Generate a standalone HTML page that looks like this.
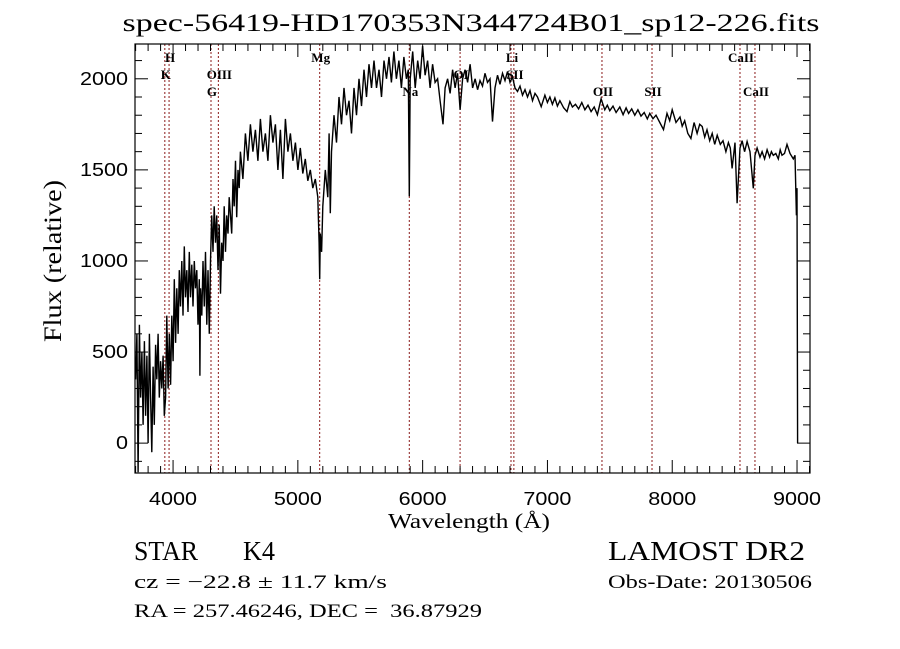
<!DOCTYPE html>
<html><head><meta charset="utf-8"><style>
html,body{margin:0;padding:0;background:#fff;}
svg{display:block;}
text{font-family:"Liberation Serif",serif;fill:#000;white-space:pre;}
.sans{font-family:"Liberation Sans",sans-serif;}
</style></head><body>
<svg id="chart" width="900" height="649" viewBox="0 0 900 649" xmlns="http://www.w3.org/2000/svg" xml:space="preserve">
<rect width="900" height="649" fill="#fff"/>
<text x="471" y="31" text-anchor="middle" font-size="25" textLength="697" lengthAdjust="spacingAndGlyphs">spec-56419-HD170353N344724B01_sp12-226.fits</text>
<g id="lines"></g>
<g id="series"></g>
<g id="axes"></g>
<text x="469" y="528" text-anchor="middle" font-size="21" textLength="162" lengthAdjust="spacingAndGlyphs">Wavelength (Å)</text>
<text transform="translate(61,261) rotate(-90)" text-anchor="middle" font-size="25" textLength="162" lengthAdjust="spacingAndGlyphs">Flux (relative)</text>
<text x="134" y="560" font-size="27" textLength="64" lengthAdjust="spacingAndGlyphs">STAR</text>
<text x="243" y="560" font-size="27" textLength="32" lengthAdjust="spacingAndGlyphs">K4</text>
<text x="608" y="560" font-size="27" textLength="197" lengthAdjust="spacingAndGlyphs">LAMOST DR2</text>
<text x="134" y="588" font-size="19" textLength="253" lengthAdjust="spacingAndGlyphs">cz = −22.8 ± 11.7 km/s</text>
<text x="608" y="588" font-size="19" textLength="204" lengthAdjust="spacingAndGlyphs">Obs-Date: 20130506</text>
<text x="134" y="617" font-size="19" textLength="348" lengthAdjust="spacingAndGlyphs">RA = 257.46246, DEC =  36.87929</text>
</svg>
<script>
const wave = [3700,3710,3720,3730,3740,3750,3760,3770,3780,3790,3800,3810,3820,3830,3840,3850,3860,3870,3880,3890,3900,3910,3920,3930,3940,3950,3960,3970,3980,3990,4000,4010,4020,4030,4040,4050,4060,4070,4080,4090,4100,4110,4120,4130,4140,4150,4160,4170,4180,4190,4200,4210,4215,4220,4230,4240,4250,4260,4270,4280,4290,4300,4310,4320,4330,4340,4350,4360,4370,4380,4390,4400,4410,4420,4430,4440,4450,4460,4470,4480,4490,4500,4510,4520,4530,4540,4560,4580,4600,4620,4640,4660,4680,4700,4720,4740,4760,4780,4800,4820,4840,4860,4880,4900,4920,4940,4960,4980,5000,5020,5040,5060,5080,5100,5120,5140,5160,5170,5175,5180,5190,5200,5220,5240,5250,5260,5270,5290,5310,5330,5350,5370,5390,5410,5430,5450,5470,5490,5510,5530,5550,5570,5590,5610,5630,5650,5670,5690,5710,5730,5750,5770,5790,5810,5830,5850,5870,5885,5893,5900,5920,5940,5960,5980,6000,6020,6040,6060,6080,6100,6120,6140,6163,6180,6200,6220,6240,6260,6280,6300,6320,6340,6360,6380,6400,6420,6440,6460,6480,6500,6520,6540,6560,6580,6600,6620,6640,6660,6680,6700,6720,6740,6760,6780,6800,6820,6840,6860,6880,6900,6920,6950,6980,7000,7020,7040,7060,7080,7100,7130,7157,7180,7200,7225,7250,7275,7300,7325,7350,7375,7400,7430,7460,7480,7500,7525,7550,7580,7606,7630,7650,7675,7700,7725,7750,7775,7800,7820,7846,7870,7900,7930,7958,7980,8000,8030,8062,8080,8100,8125,8150,8175,8199,8220,8240,8260,8279,8300,8320,8340,8360,8385,8407,8430,8450,8465,8480,8503,8520,8543,8560,8580,8600,8623,8650,8663,8680,8703,8720,8740,8760,8780,8795,8810,8830,8850,8865,8880,8900,8920,8944,8970,8984,8995,9000,9005,9008];
const flux = [350,600,-160,650,250,500,100,560,150,480,0,600,250,-50,420,100,540,350,600,250,450,300,480,150,250,700,300,600,320,700,450,900,550,850,600,950,750,1000,700,1080,800,950,720,1050,800,980,750,1000,850,950,650,900,370,850,700,1000,750,1050,650,950,600,1000,1250,1050,1300,1100,1250,950,1200,820,1100,1000,1300,1050,1250,1150,1350,1250,1150,1450,1300,1550,1240,1500,1400,1600,1450,1700,1550,1750,1600,1720,1550,1780,1600,1700,1550,1800,1650,1750,1500,1720,1450,1780,1600,1700,1550,1650,1500,1620,1480,1560,1440,1500,1400,1450,1350,1100,900,1150,1050,1300,1500,1350,1700,1262,1600,1800,1650,1900,1750,1950,1800,1880,1700,1950,1800,2000,1850,2050,1900,2080,1950,2100,1950,2050,1900,2100,2000,2120,1980,2150,2000,2100,1950,2120,2000,2050,1355,2000,2150,1950,2100,2000,2180,2020,2100,1950,2080,1980,2000,1880,1750,1950,2000,1920,2050,1950,2030,1830,2000,2050,1980,2080,1950,2000,1940,1990,1960,2030,1980,2000,1765,1950,2020,1970,2030,1990,2040,1980,2010,1950,1930,1960,1910,1940,1900,1935,1880,1920,1900,1847,1910,1870,1900,1860,1895,1850,1880,1840,1820,1875,1845,1860,1835,1870,1830,1855,1820,1845,1803,1890,1830,1855,1825,1850,1815,1845,1803,1840,1810,1835,1800,1830,1795,1815,1780,1810,1781,1800,1760,1721,1810,1770,1830,1760,1790,1740,1770,1700,1672,1760,1700,1750,1738,1680,1720,1660,1700,1640,1690,1640,1660,1600,1650,1620,1508,1650,1317,1620,1660,1600,1656,1600,1399,1580,1620,1570,1600,1560,1610,1570,1600,1580,1590,1560,1610,1580,1590,1640,1590,1560,1580,1250,1400,0];
const lineWaves = [3934,3968,4304,4363,5175,5893,6300,6708,6731,7437,7838,8543,8663];
const lineLabels = ["K","H","G","OIII","Mg","Na","OI","Li","SII","OII","SII","CaII","CaII"];
const labelRows = [1,0,2,1,0,2,1,0,1,2,2,0,2];
const xTicks = [4000,5000,6000,7000,8000,9000];
const yTicks = [0,500,1000,1500,2000];

const L=135,R=810,T=44,B=473;
const X0=3695,X1=9104,Y0=-164,Y1=2191;
const sx = w => L + (w-X0)/(X1-X0)*(R-L);
const sy = f => B - (f-Y0)/(Y1-Y0)*(B-T);
const NS="http://www.w3.org/2000/svg";
function mk(tag, parent, attrs){const e=document.createElementNS(NS,tag);for(const k in attrs)e.setAttribute(k,attrs[k]);parent.appendChild(e);return e;}

const gl=document.getElementById('lines');
lineWaves.forEach((w,i)=>{
  const x=sx(w);
  const ln=mk('line',gl,{x1:x,x2:x,y1:T,y2:B,stroke:'#8b1a1a','stroke-width':1,'stroke-dasharray':'2,2'});
  
  
  const t=mk('text',gl,{x:x+1,y:62+labelRows[i]*17,'text-anchor':'middle','font-size':13,'font-weight':'bold'});
  t.textContent=lineLabels[i];
  
  
});

const gs=document.getElementById('series');
const d=wave.map((w,i)=>(i?'L':'M')+sx(w).toFixed(1)+','+sy(flux[i]).toFixed(1)).join(' ');
const p=mk('path',gs,{d:d,fill:'none',stroke:'#000','stroke-width':1.4,'stroke-linejoin':'miter'});



const ga=document.getElementById('axes');
const fr=mk('rect',ga,{x:L,y:T,width:R-L,height:B-T,fill:'none',stroke:'#000','stroke-width':1.2});


for(let w=3700;w<=9100;w+=100){
  const x=sx(w);const maj=w%1000===0;const len=maj?13:7;
  mk('line',ga,{x1:x,x2:x,y1:B,y2:B-len,stroke:'#000','stroke-width':1});
  mk('line',ga,{x1:x,x2:x,y1:T,y2:T+len,stroke:'#000','stroke-width':1});
}
for(let f=-100;f<=2100;f+=100){
  const y=sy(f);const maj=f%500===0;const len=maj?13:7;
  mk('line',ga,{x1:L,x2:L+len,y1:y,y2:y,stroke:'#000','stroke-width':1});
  mk('line',ga,{x1:R,x2:R-len,y1:y,y2:y,stroke:'#000','stroke-width':1});
}
xTicks.forEach(v=>{
  const t=mk('text',ga,{x:sx(v),y:505,'text-anchor':'middle','font-size':18,class:'sans',textLength:48,lengthAdjust:'spacingAndGlyphs'});
  t.textContent=v;
  
  
});
yTicks.forEach(v=>{
  const s=String(v);
  const t=mk('text',ga,{x:128,y:sy(v)+6,'text-anchor':'end','font-size':18,class:'sans',textLength:12*s.length,lengthAdjust:'spacingAndGlyphs'});
  t.textContent=s;
  
  
});
</script>
</body></html>
